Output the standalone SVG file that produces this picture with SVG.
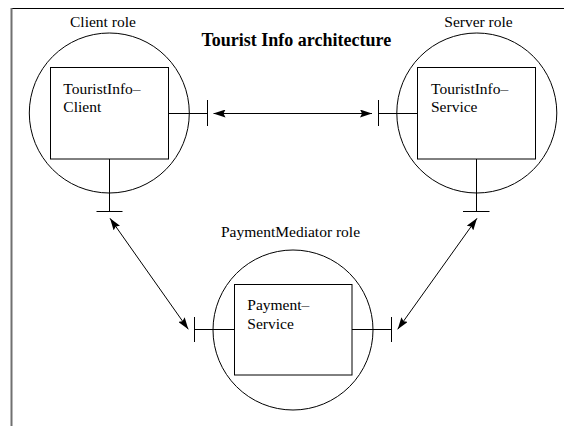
<svg xmlns="http://www.w3.org/2000/svg" width="564" height="426" viewBox="0 0 564 426">
  <style>
    .lbl { font-family: "Liberation Serif", "Times New Roman", serif; font-size: 15.5px; fill: #000; }
    .title { font-family: "Liberation Serif", "Times New Roman", serif; font-size: 18px; font-weight: bold; fill: #000; }
    .ln { fill: none; stroke: #000; stroke-width: 1; }
    .arr { fill: none; stroke: #000; stroke-width: 1; marker-start: url(#ah); marker-end: url(#ah); }
  </style>
  <defs>
    <marker id="ah" viewBox="0 0 12 8" refX="12" refY="4" markerWidth="12" markerHeight="8" markerUnits="userSpaceOnUse" orient="auto-start-reverse">
      <path d="M0,0 L12,4 L0,8 L2,4 Z" fill="#000"/>
    </marker>
  </defs>
  <rect width="564" height="426" fill="#fff"/>

  <!-- page frame -->
  <line x1="11" y1="8.5" x2="564" y2="8.5" stroke="#000" stroke-width="1"/>
  <line x1="11.5" y1="8" x2="11.5" y2="426" stroke="#707070" stroke-width="2"/>

  <text class="title" x="201.5" y="45.7">Tourist Info architecture</text>

  <!-- client role -->
  <g id="client">
    <text class="lbl" x="70" y="26.7">Client role</text>
    <circle class="ln" cx="109.3" cy="113" r="80"/>
    <rect class="ln" x="50.5" y="67.5" width="118" height="91.5"/>
    <text class="lbl" x="63.3" y="94.3">TouristInfo–</text>
    <text class="lbl" x="63.3" y="111.7">Client</text>
    <path class="ln" d="M168.5,113.5 H207.5 M207.5,100 V126"/>
    <path class="ln" d="M109.5,159 V211.5 M96.5,211.5 H122.5"/>
  </g>

  <!-- server role -->
  <g id="server">
    <text class="lbl" x="444.3" y="26.7">Server role</text>
    <circle class="ln" cx="476.8" cy="113" r="80"/>
    <rect class="ln" x="417.5" y="67.5" width="118" height="91.5"/>
    <text class="lbl" x="431" y="94.3">TouristInfo–</text>
    <text class="lbl" x="431" y="111.7">Service</text>
    <path class="ln" d="M417.5,113.5 H378.5 M378.5,100 V126"/>
    <path class="ln" d="M476.5,159 V211.5 M463,211.5 H489.5"/>
  </g>

  <!-- payment mediator role -->
  <g id="payment">
    <text class="lbl" x="221" y="236.7">PaymentMediator role</text>
    <circle class="ln" cx="293" cy="330" r="80"/>
    <rect class="ln" x="234.5" y="284.5" width="117.5" height="90.5"/>
    <text class="lbl" x="247.3" y="310">Payment–</text>
    <text class="lbl" x="247.3" y="329">Service</text>
    <path class="ln" d="M234.5,329.5 H194.5 M194.5,317 V342"/>
    <path class="ln" d="M352,329.5 H391.5 M391.5,317 V342"/>
  </g>

  <!-- connectors -->
  <g id="connectors">
    <line class="arr" x1="213.5" y1="113.5" x2="372" y2="113.5"/>
    <line class="arr" x1="110" y1="218.3" x2="188.3" y2="329.3"/>
    <line class="arr" x1="477" y1="218.3" x2="397.7" y2="329.3"/>
  </g>
</svg>
